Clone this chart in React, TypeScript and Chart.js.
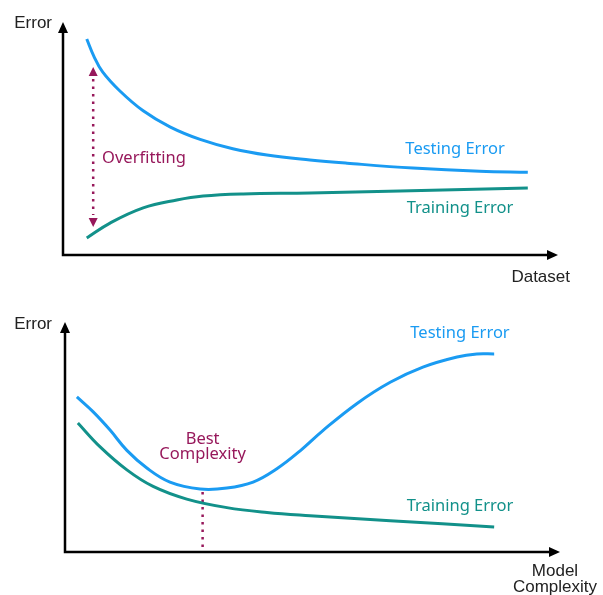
import React, { useEffect, useRef } from "react";
import { Chart, registerables } from "chart.js";

Chart.register(...registerables);

// ---------- Data (arbitrary units, 0..100 on both axes) ----------
// Top chart: error vs dataset size
const topTestingX = [4.8, 6.2, 8.0, 11.5, 16.2, 21.6, 27.7, 34.3, 41.2, 49.9, 57.4, 70.7, 84.2, 93.9];
const topTestingY = [92.7, 85.5, 78.6, 70.4, 61.9, 55.0, 49.6, 45.6, 42.9, 40.8, 39.4, 37.3, 35.9, 35.5];
const topTrainingX = [4.8, 9.5, 16.2, 23.0, 28.3, 36.4, 49.9, 68.1, 93.9];
const topTrainingY = [7.3, 13.7, 20.2, 23.6, 25.3, 26.2, 26.6, 27.5, 28.8];

// Bottom chart: error vs model complexity
const botTestingX = [2.4, 5.7, 9.1, 12.5, 16.6, 21.2, 27.3, 32.7, 38.0, 42.8, 47.5, 52.1, 59.0, 65.7, 72.3, 79.2, 83.2, 86.7];
const botTestingY = [67.4, 60.9, 53.0, 44.2, 36.4, 30.4, 27.4, 27.8, 30.4, 36.2, 44.0, 52.8, 64.6, 73.8, 80.4, 84.8, 86.1, 86.1];
const botTrainingX = [2.6, 7.1, 12.5, 17.8, 24.6, 32.7, 40.8, 49.5, 65.7, 86.7];
const botTrainingY = [56.1, 45.7, 35.7, 28.5, 23.0, 19.3, 17.2, 15.8, 13.6, 10.9];

// Annotation anchors (data units)
const overfitX = 6.1;
const overfitTop = 80.7;
const overfitBottom = 12.0;
const bestX = 27.8;
const bestY = 27.4;

const BLUE = "#1a9bf2";
const TEAL = "#12918a";
const MAROON = "#97185b";
const AXIS_FONT = "17px 'Liberation Sans', Arial, sans-serif";
const NOTE_FONT = "16.5px 'Noto Sans', sans-serif";

const zip = (xs: number[], ys: number[]) => xs.map((x, i) => ({ x, y: ys[i] }));

function drawAxes(chart: any) {
  const ctx = chart.ctx;
  const { left, right, top, bottom } = chart.chartArea;
  ctx.save();
  ctx.strokeStyle = "#000";
  ctx.fillStyle = "#000";
  ctx.lineWidth = 2.5;
  ctx.beginPath();
  ctx.moveTo(left, top + 8);
  ctx.lineTo(left, bottom);
  ctx.lineTo(right - 8, bottom);
  ctx.stroke();
  ctx.beginPath();
  ctx.moveTo(left, top);
  ctx.lineTo(left - 5, top + 11);
  ctx.lineTo(left + 5, top + 11);
  ctx.closePath();
  ctx.fill();
  ctx.beginPath();
  ctx.moveTo(right, bottom);
  ctx.lineTo(right - 11, bottom - 5);
  ctx.lineTo(right - 11, bottom + 5);
  ctx.closePath();
  ctx.fill();
  ctx.restore();
}

function dotted(ctx: any, x: number, y1: number, y2: number) {
  ctx.save();
  ctx.strokeStyle = MAROON;
  ctx.lineWidth = 2.5;
  ctx.setLineDash([2.5, 5]);
  ctx.beginPath();
  ctx.moveTo(x, y1);
  ctx.lineTo(x, y2);
  ctx.stroke();
  ctx.restore();
}

function tri(ctx: any, x: number, tipY: number, dir: number) {
  ctx.save();
  ctx.fillStyle = MAROON;
  ctx.beginPath();
  ctx.moveTo(x, tipY);
  ctx.lineTo(x - 4.5, tipY + dir * 9);
  ctx.lineTo(x + 4.5, tipY + dir * 9);
  ctx.closePath();
  ctx.fill();
  ctx.restore();
}

function text(ctx: any, s: string, x: number, y: number, color: string, font: string, align: any) {
  ctx.save();
  ctx.fillStyle = color;
  ctx.font = font;
  ctx.textAlign = align;
  ctx.textBaseline = "middle";
  ctx.fillText(s, x, y);
  ctx.restore();
}

const topPlugin = {
  id: "topDecor",
  beforeDatasetsDraw(chart: any) {
    drawAxes(chart);
    const ctx = chart.ctx;
    const xs = chart.scales.x;
    const ys = chart.scales.y;
    const { left, right, top, bottom } = chart.chartArea;
    const ox = xs.getPixelForValue(overfitX);
    const t = ys.getPixelForValue(overfitTop);
    const b = ys.getPixelForValue(overfitBottom);
    dotted(ctx, ox, t + 12, b - 12);
    tri(ctx, ox, t, 1);
    tri(ctx, ox, b, -1);
    text(ctx, "Error", left - 11, top + 1, "#222", AXIS_FONT, "right");
    text(ctx, "Dataset", right + 12, bottom + 22, "#222", AXIS_FONT, "right");
  },
  afterDatasetsDraw(chart: any) {
    const ctx = chart.ctx;
    const xs = chart.scales.x;
    const ys = chart.scales.y;
    text(ctx, "Overfitting", xs.getPixelForValue(7.9), ys.getPixelForValue(41.6), MAROON, NOTE_FONT, "left");
    text(ctx, "Testing Error", xs.getPixelForValue(79.2), ys.getPixelForValue(45.5), BLUE, NOTE_FONT, "center");
    text(ctx, "Training Error", xs.getPixelForValue(80.2), ys.getPixelForValue(20.2), TEAL, NOTE_FONT, "center");
  },
};

const botPlugin = {
  id: "botDecor",
  beforeDatasetsDraw(chart: any) {
    drawAxes(chart);
    const ctx = chart.ctx;
    const xs = chart.scales.x;
    const ys = chart.scales.y;
    const { left, right, top, bottom } = chart.chartArea;
    dotted(ctx, xs.getPixelForValue(bestX), ys.getPixelForValue(bestY) + 3, bottom - 2);
    text(ctx, "Error", left - 13, top + 2, "#222", AXIS_FONT, "right");
    text(ctx, "Model", right - 5, bottom + 19, "#222", AXIS_FONT, "center");
    text(ctx, "Complexity", right - 5, bottom + 35, "#222", AXIS_FONT, "center");
  },
  afterDatasetsDraw(chart: any) {
    const ctx = chart.ctx;
    const xs = chart.scales.x;
    const ys = chart.scales.y;
    text(ctx, "Testing Error", xs.getPixelForValue(79.8), ys.getPixelForValue(95.2), BLUE, NOTE_FONT, "center");
    text(ctx, "Training Error", xs.getPixelForValue(79.8), ys.getPixelForValue(20.0), TEAL, NOTE_FONT, "center");
    text(ctx, "Best", xs.getPixelForValue(bestX), ys.getPixelForValue(48.9), MAROON, NOTE_FONT, "center");
    text(ctx, "Complexity", xs.getPixelForValue(bestX), ys.getPixelForValue(42.6), MAROON, NOTE_FONT, "center");
  },
};

function makeConfig(testing: any[], training: any[], padding: any, plugin: any): any {
  const ds = (data: any[], color: string) => ({
    data,
    borderColor: color,
    borderWidth: 3,
    pointRadius: 0,
    fill: false,
    tension: 0.4,
    cubicInterpolationMode: "default",
    borderCapStyle: "butt",
  });
  return {
    type: "line",
    data: { datasets: [ds(testing, BLUE), ds(training, TEAL)] },
    options: {
      responsive: false,
      animation: false,
      devicePixelRatio: 1,
      layout: { padding },
      plugins: { legend: { display: false }, tooltip: { enabled: false } },
      scales: {
        x: { type: "linear", min: 0, max: 100, display: false },
        y: { type: "linear", min: 0, max: 100, display: false },
      },
    },
    plugins: [plugin],
  };
}

export default function App() {
  const topRef = useRef<HTMLCanvasElement>(null);
  const botRef = useRef<HTMLCanvasElement>(null);
  useEffect(() => {
    const c1 = new Chart(
      topRef.current!,
      makeConfig(zip(topTestingX, topTestingY), zip(topTrainingX, topTrainingY), { left: 63, right: 45, top: 22, bottom: 43 }, topPlugin)
    );
    const c2 = new Chart(
      botRef.current!,
      makeConfig(zip(botTestingX, botTestingY), zip(botTrainingX, botTrainingY), { left: 65, right: 43, top: 24, bottom: 43 }, botPlugin)
    );
    return () => {
      c1.destroy();
      c2.destroy();
    };
  }, []);
  return (
    <div style={{ position: "absolute", left: 0, top: 0, width: 603, height: 595, background: "#fff" }}>
      <canvas ref={topRef} width={603} height={298} style={{ display: "block", position: "absolute", left: 0, top: 0 }} />
      <canvas ref={botRef} width={603} height={297} style={{ display: "block", position: "absolute", left: 0, top: 298 }} />
    </div>
  );
}
